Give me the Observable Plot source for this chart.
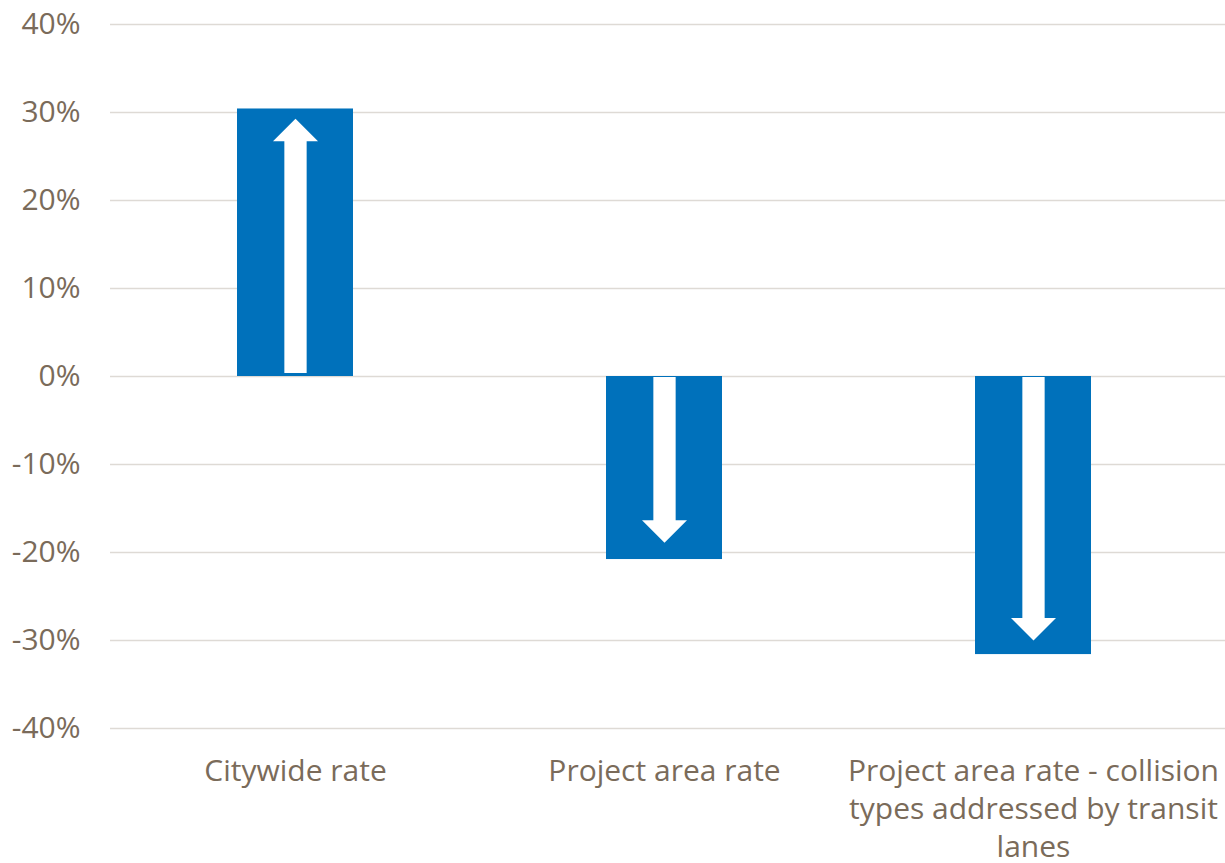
<!DOCTYPE html>
<html>
<head>
<meta charset="utf-8">
<script src="https://cdn.jsdelivr.net/npm/d3@7"></script>
<script src="https://cdn.jsdelivr.net/npm/@observablehq/plot@0.6"></script>
<style>
  html, body { margin: 0; padding: 0; background: #ffffff; }
  #chart { width: 1225px; height: 863px; }
</style>
</head>
<body>
<div id="chart"></div>
<script>
// ---- data ----
const categories = [
  "Citywide rate",
  "Project area rate",
  "Project area rate - collision types addressed by transit lanes"
];
const categoryLabels = [
  "Citywide rate",
  "Project area rate",
  "Project area rate - collision\ntypes addressed by transit\nlanes"
];
const changePct = [30.4, -20.8, -31.6];      // % change
const arrowTipPct = [29.3, -18.9, -30.0];    // where the white arrow tips sit
const yTicks = [-40, -30, -20, -10, 0, 10, 20, 30, 40];

// ---- build table ----
const data = categories.map((c, i) => ({
  cat: c,
  label: categoryLabels[i],
  value: changePct[i],
  tip: arrowTipPct[i]
}));
const labelOf = new Map(data.map(d => [d.cat, d.label]));

const BLUE = "#0071bb";
const TEXT = "#7a6b5a";
const GRID = "#dedad5";
const FS = 30;

// arrow head: tip at origin pointing up, base 22.5px below
const arrowHead = {
  draw(ctx) {
    ctx.moveTo(0, 0);
    ctx.lineTo(22.5, 22.5);
    ctx.lineTo(-22.5, 22.5);
    ctx.closePath();
  }
};

const chart = Plot.plot({
  width: 1225,
  height: 863,
  marginTop: 24,
  marginBottom: 135,
  marginLeft: 110,
  marginRight: 0,
  style: { fontFamily: "'Open Sans', 'Noto Sans', sans-serif", fontSize: FS + "px", color: TEXT, background: "#ffffff" },
  x: { domain: categories, paddingInner: 0.686, paddingOuter: 0.35, align: 0.486, label: null },
  y: { domain: [-40, 40], label: null },
  marks: [
    Plot.ruleY(yTicks, { stroke: GRID, strokeWidth: 1.7 }),
    Plot.barY(data, { x: "cat", y1: 0, y2: "value", fill: BLUE }),
    // shafts (y1 is the upper end in pixels for the inset logic)
    Plot.ruleX(data.filter(d => d.value > 0), { x: "cat", y1: "tip", y2: 0, stroke: "white", strokeWidth: 22.3, insetTop: 20, insetBottom: 3 }),
    Plot.ruleX(data.filter(d => d.value < 0), { x: "cat", y1: 0, y2: "tip", stroke: "white", strokeWidth: 22.3, insetTop: 1, insetBottom: 20 }),
    // heads
    Plot.dot(data, { x: "cat", y: "tip", r: 10, symbol: arrowHead, fill: "white", stroke: null, rotate: d => d.value > 0 ? 0 : 180 }),
    Plot.axisY({ ticks: yTicks, tickFormat: d => d + "%", tickSize: 0, tickPadding: 30, fontSize: FS, fill: TEXT, label: null }),
    Plot.axisX({ tickFormat: d => labelOf.get(d), tickSize: 0, tickPadding: 26, fontSize: FS, fill: TEXT, lineHeight: 1.26, lineWidth: 100, label: null })
  ]
});
document.getElementById("chart").appendChild(chart);
</script>
</body>
</html>
